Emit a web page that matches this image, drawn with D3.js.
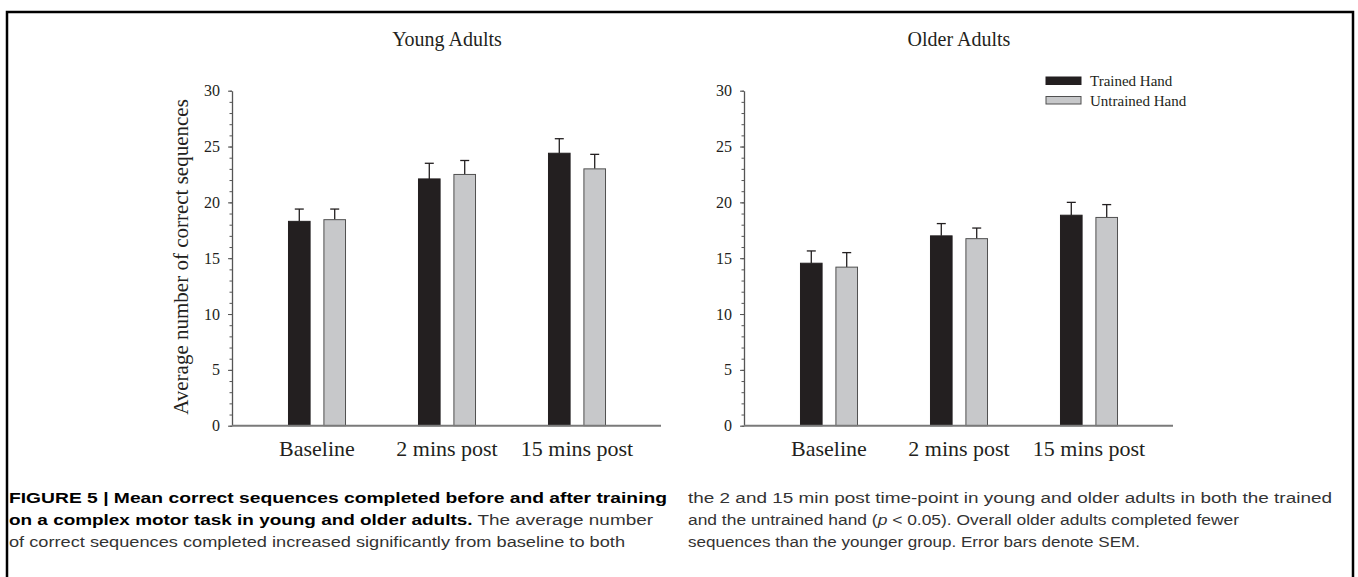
<!DOCTYPE html>
<html>
<head>
<meta charset="utf-8">
<script src="https://cdn.jsdelivr.net/npm/d3@7"></script>
<style>
  body { margin: 0; background: #fff; }
  svg { display: block; }
</style>
</head>
<body>
<svg width="1358" height="577"></svg>
<script>
var categories = ["Baseline", "2 mins post", "15 mins post"];
var seriesNames = ["Trained Hand", "Untrained Hand"];
var yTicks = [0, 5, 10, 15, 20, 25, 30];

var youngTrained = [18.3, 22.1, 24.4];
var youngTrainedErr = [1.1, 1.4, 1.3];
var youngUntrained = [18.45, 22.5, 23.0];
var youngUntrainedErr = [0.95, 1.25, 1.3];

var olderTrained = [14.55, 17.0, 18.85];
var olderTrainedErr = [1.1, 1.1, 1.15];
var olderUntrained = [14.2, 16.75, 18.65];
var olderUntrainedErr = [1.3, 0.95, 1.15];

var captionLeft = [
    [{t: "FIGURE 5 | Mean correct sequences completed before and after training", b: true}],
    [{t: "on a complex motor task in young and older adults.", b: true}, {t: " The average number"}],
    [{t: "of correct sequences completed increased significantly from baseline to both"}]
];
var captionRight = [
    [{t: "the 2 and 15 min post time-point in young and older adults in both the trained"}],
    [{t: "and the untrained hand ("}, {t: "p", i: true}, {t: " < 0.05). Overall older adults completed fewer"}],
    [{t: "sequences than the younger group. Error bars denote SEM."}]
];

var svg = d3.select("svg");
var serif = "'Liberation Serif', 'Times New Roman', serif";
var colors = ["#231f20", "#c7c8ca"];
var strokes = ["#231f20", "#505050"];

/* frame round the figure */
svg.append("path")
    .attr("d", "M7,577 V12 H1353 V577")
    .attr("fill", "none")
    .attr("stroke", "#000")
    .attr("stroke-width", 2.5);

var y = d3.scaleLinear().domain([0, 30]).range([425.7, 90.7]);

function drawPanel(left, title, trained, trainedErr, untrained, untrainedErr, showLabel, showLegend)
{
    var g = svg.append("g");
    var axisEnd = left + 429;

    var x = d3.scaleBand().domain(categories).range([left + 20, axisEnd - 19]);
    var inner = d3.scaleBand().domain(seriesNames).range([0, x.bandwidth()]).paddingInner(0.39).paddingOuter(1.03);

    var rows = [];
    for (var i = 0; i < categories.length; i++) {
        rows.push({cat: categories[i], s: 0, v: trained[i], e: trainedErr[i]});
        rows.push({cat: categories[i], s: 1, v: untrained[i], e: untrainedErr[i]});
    }

    /* minor ticks every unit, then the major ones */
    g.append("g")
        .attr("transform", "translate(" + left + ",0)")
        .call(d3.axisLeft(y).ticks(30).tickSize(2.5).tickFormat(""))
        .call(function(a) { a.select(".domain").remove(); a.selectAll("line").attr("stroke", "#555"); });

    var ya = g.append("g")
        .attr("transform", "translate(" + left + ",0)")
        .call(d3.axisLeft(y).tickValues(yTicks).tickSize(4).tickSizeOuter(0).tickPadding(8));
    ya.select(".domain").attr("stroke", "#555").attr("stroke-width", 1.3);
    ya.selectAll("line").attr("stroke", "#555");
    ya.selectAll("text").attr("font-family", serif).attr("font-size", 16).attr("fill", "#231f20");

    /* error bars, upper half only */
    var err = g.selectAll(".err").data(rows).enter().append("g");
    err.append("line")
        .attr("x1", function(d) { return x(d.cat) + inner(seriesNames[d.s]) + inner.bandwidth() / 2; })
        .attr("x2", function(d) { return x(d.cat) + inner(seriesNames[d.s]) + inner.bandwidth() / 2; })
        .attr("y1", function(d) { return y(d.v); })
        .attr("y2", function(d) { return y(d.v + d.e); });
    err.append("line")
        .attr("x1", function(d) { return x(d.cat) + inner(seriesNames[d.s]) + inner.bandwidth() / 2 - 4.5; })
        .attr("x2", function(d) { return x(d.cat) + inner(seriesNames[d.s]) + inner.bandwidth() / 2 + 4.5; })
        .attr("y1", function(d) { return y(d.v + d.e); })
        .attr("y2", function(d) { return y(d.v + d.e); });
    err.selectAll("line").attr("stroke", "#231f20").attr("stroke-width", 1.3);

    g.selectAll(".bar").data(rows).enter().append("rect")
        .attr("x", function(d) { return x(d.cat) + inner(seriesNames[d.s]); })
        .attr("y", function(d) { return y(d.v); })
        .attr("width", inner.bandwidth())
        .attr("height", function(d) { return y(0) - y(d.v); })
        .attr("fill", function(d) { return colors[d.s]; })
        .attr("stroke", function(d) { return strokes[d.s]; })
        .attr("stroke-width", 1);

    /* x axis: plain grey line, labels only */
    g.append("line")
        .attr("x1", left).attr("x2", axisEnd)
        .attr("y1", y(0)).attr("y2", y(0))
        .attr("stroke", "#7a7a7a").attr("stroke-width", 2);

    g.selectAll(".xl").data(categories).enter().append("text")
        .attr("x", function(d) { return x(d) + x.bandwidth() / 2; })
        .attr("y", 456)
        .attr("text-anchor", "middle")
        .attr("font-family", serif).attr("font-size", 22).attr("fill", "#231f20")
        .text(function(d) { return d; });

    g.append("text")
        .attr("x", x(categories[1]) + x.bandwidth() / 2)
        .attr("y", 46)
        .attr("text-anchor", "middle")
        .attr("font-family", serif).attr("font-size", 20).attr("fill", "#231f20")
        .text(title);

    if (showLabel) {
        g.append("text")
            .attr("transform", "translate(" + (left - 44) + "," + 257 + ") rotate(-90)")
            .attr("text-anchor", "middle")
            .attr("font-family", serif).attr("font-size", 21).attr("fill", "#231f20")
            .text("Average number of correct sequences");
    }

    if (showLegend) {
        var lg = g.selectAll(".lg").data(seriesNames).enter().append("g")
            .attr("transform", function(d, i) { return "translate(" + (left + 302) + "," + (77 + i * 19.5) + ")"; });
        lg.append("rect")
            .attr("width", 35).attr("height", 7.5)
            .attr("fill", function(d, i) { return colors[i]; })
            .attr("stroke", function(d, i) { return strokes[i]; });
        lg.append("text")
            .attr("x", 44).attr("y", 9)
            .attr("font-family", serif).attr("font-size", 15).attr("fill", "#231f20")
            .text(function(d) { return d; });
    }
}

drawPanel(232, "Young Adults", youngTrained, youngTrainedErr, youngUntrained, youngUntrainedErr, true, false);
drawPanel(744, "Older Adults", olderTrained, olderTrainedErr, olderUntrained, olderUntrainedErr, false, true);

/* caption, two columns */
function caption(lines, left, widths)
{
    for (var i = 0; i < lines.length; i++) {
        var t = svg.append("text")
            .attr("x", left).attr("y", 503 + i * 22)
            .attr("font-family", "'Liberation Sans', Arial, sans-serif")
            .attr("font-size", 15.5)
            .attr("fill", "#231f20")
            .attr("textLength", widths[i])
            .attr("lengthAdjust", "spacingAndGlyphs");
        t.selectAll("tspan").data(lines[i]).enter().append("tspan")
            .attr("font-weight", function(d) { return d.b ? "bold" : null; })
            .attr("font-style", function(d) { return d.i ? "italic" : null; })
            .attr("fill", function(d) { return d.b ? "#000" : "#333"; })
            .text(function(d) { return d.t; });
    }
}
caption(captionLeft, 9, [658, 644, 616]);
caption(captionRight, 688, [644, 551, 452]);
</script>
</body>
</html>
